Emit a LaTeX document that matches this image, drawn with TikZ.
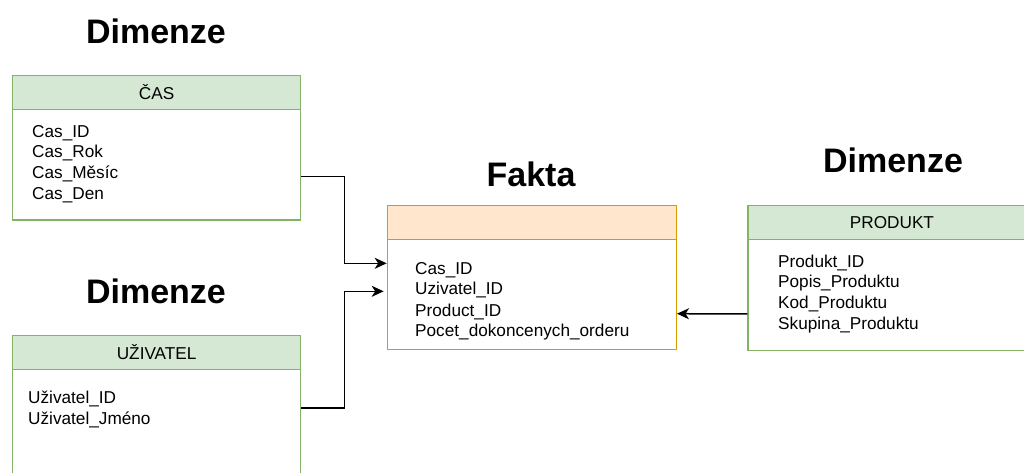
\documentclass[tikz,border=0pt]{standalone}
\usepackage{fontspec}
\setmainfont{Liberation Sans}
\usetikzlibrary{arrows.meta}
\definecolor{dimfill}{HTML}{D5E8D4}
\definecolor{dimline}{HTML}{82B366}
\definecolor{factfill}{HTML}{FFE6CC}
\definecolor{factline}{HTML}{D79B00}
\tikzset{
  dimhead/.style={draw=dimline, fill=dimfill, line width=1.3pt, inner sep=0pt,
    minimum width=288pt, minimum height=33.5pt, anchor=north west,
    font=\fontsize{17.2}{20}\selectfont},
  dimbody/.style={draw=dimline, fill=white, line width=1.3pt, inner sep=0pt,
    minimum width=288pt, minimum height=110.8pt, anchor=north west},
  facthead/.style={draw=factline, fill=factfill, line width=1.3pt, inner sep=0pt,
    minimum width=289pt, minimum height=33.7pt, anchor=north west},
  factbody/.style={draw=factline, fill=white, line width=1.3pt, inner sep=0pt,
    minimum width=289pt, minimum height=110.3pt, anchor=north west},
  field/.style={anchor=base west, inner sep=0pt, font=\fontsize{17.2}{20}\selectfont},
  title/.style={anchor=base, inner sep=0pt, font=\fontsize{34}{40}\selectfont\bfseries},
  link/.style={line width=1.5pt, line join=miter,
    -{Stealth[length=12pt,width=11pt,inset=3.5pt]}}
}
\begin{document}
\begin{tikzpicture}[x=1pt,y=-1pt]
\useasboundingbox (0,0) rectangle (1024,472);
\clip (0,0) rectangle (1024,472);
\fill[white] (0,0) rectangle (1024,472);

% section titles
\node[title] (t1) at (156,43) {Dimenze};
\node[title] (t2) at (156,303) {Dimenze};
\node[title] (t3) at (531,186.5) {Fakta};
\node[title] (t4) at (893,172.5) {Dimenze};

% dimension table: time
\node[dimhead] (casH) at (12,75) {ČAS};
\node[dimbody] (casB) at (12,108.5) {};
\node[field] (c1) at (32,137) {Cas\_ID};
\node[field] (c2) at (32,157.5) {Cas\_Rok};
\node[field] (c3) at (32,178.5) {Cas\_Měsíc};
\node[field] (c4) at (32,199) {Cas\_Den};

% dimension table: user
\node[dimhead] (uzH) at (12,335) {UŽIVATEL};
\node[dimbody] (uzB) at (12,368.5) {};
\node[field] (u1) at (28,403) {Uživatel\_ID};
\node[field] (u2) at (28,424) {Uživatel\_Jméno};

% fact table
\node[facthead] (faH) at (386.7,205) {};
\node[factbody] (faB) at (386.7,238.7) {};
\node[field] (f1) at (415,274) {Cas\_ID};
\node[field] (f2) at (415,294.5) {Uzivatel\_ID};
\node[field] (f3) at (415,316) {Product\_ID};
\node[field] (f4) at (415,336.5) {Pocet\_dokoncenych\_orderu};

% dimension table: product
\node[dimhead] (prH) at (747.3,205) {PRODUKT};
\node[dimbody] (prB) at (747.3,238.7) {};
\node[field] (p1) at (778,267) {Produkt\_ID};
\node[field] (p2) at (778,287.5) {Popis\_Produktu};
\node[field] (p3) at (778,308.5) {Kod\_Produktu};
\node[field] (p4) at (778,329) {Skupina\_Produktu};

% relations
\draw[link] ([yshift=-12.1pt]casB.east) -- ++(43,0) |- ([yshift=31.2pt]faB.west);
\draw[link, shorten >=3pt] ([yshift=16.5pt]uzB.east) -- ++(43,0) |- ([yshift=3.2pt]faB.west);
\draw[link] ([yshift=-19.2pt]prB.west) -- ([yshift=-19.2pt]faB.east);
\end{tikzpicture}
\end{document}
